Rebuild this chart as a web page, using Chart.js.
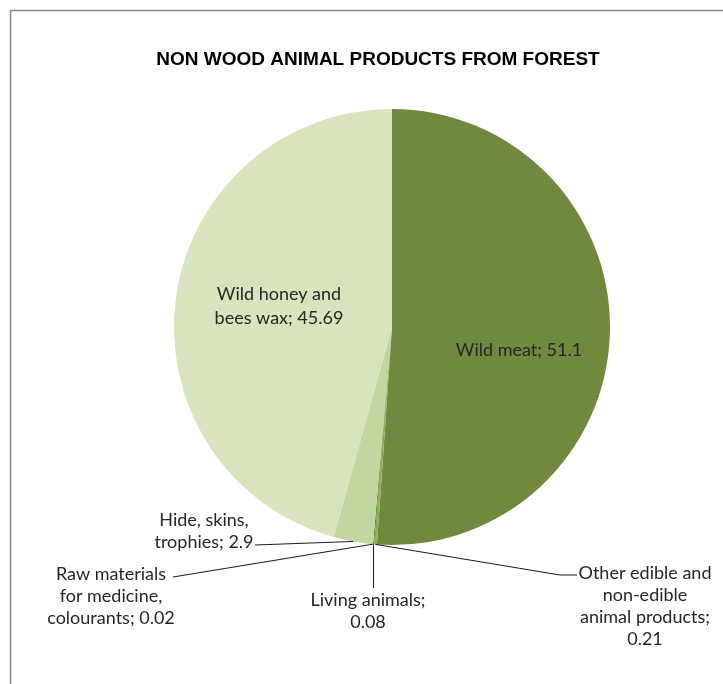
<!DOCTYPE html>
<html>
<head>
<meta charset="utf-8">
<title>Non wood animal products from forest</title>
<script src="https://cdn.jsdelivr.net/npm/chart.js@4/dist/chart.umd.min.js"></script>
<style>
    html, body { margin: 0; padding: 0; background: #fff; }
    #wrap { width: 723px; height: 684px; }
</style>
</head>
<body>
<div id="wrap"><canvas id="pieChart" width="723" height="684"></canvas></div>
<script>
const TITLE = 'NON WOOD ANIMAL PRODUCTS FROM FOREST';

const categories = [
    'Wild meat',
    'Other edible and non-edible animal products',
    'Living animals',
    'Raw materials for medicine, colourants',
    'Hide, skins, trophies',
    'Wild honey and bees wax'
];
const values = [51.1, 0.21, 0.08, 0.02, 2.9, 45.69];
const valueLabels = ['51.1', '0.21', '0.08', '0.02', '2.9', '45.69'];

const sliceColors = ['#71893f', '#8fac57', '#5f7b2f', '#a9c47a', '#c3d6a0', '#d7e4bd'];

// how each label is laid out: text lines, text centre, leader elbow points
const labelLayout = [
    { lines: ['Wild meat; 51.1'], x: 519, y: 350, lh: 22, inside: true },
    { lines: ['Other edible and', 'non-edible', 'animal products;', '0.21'], x: 645, y: 573, lh: 22,
      leader: [[560, 575], [577, 575]] },
    { lines: ['Living animals;', '0.08'], x: 368, y: 600, lh: 22,
      leader: [[null, 588]] },
    { lines: ['Raw materials', 'for medicine,', 'colourants; 0.02'], x: 111, y: 574, lh: 22,
      leader: [[173, 577]] },
    { lines: ['Hide, skins,', 'trophies; 2.9'], x: 204, y: 520, lh: 22,
      leader: [[255, 545]] },
    { lines: ['Wild honey and', 'bees wax; 45.69'], x: 279, y: 294, lh: 24, inside: true }
];

const labelPlugin = {
    id: 'labelPlugin',
    afterDraw(chart) {
        const ctx = chart.ctx;
        ctx.save();

        // outer frame
        ctx.strokeStyle = '#898989';
        ctx.lineWidth = 1.5;
        ctx.strokeRect(10.5, 10.5, 800, 800);

        // title
        ctx.fillStyle = '#000';
        ctx.font = 'bold 19px "Liberation Sans", Arial, sans-serif';
        ctx.textAlign = 'center';
        ctx.textBaseline = 'middle';
        ctx.fillText(TITLE, 378, 60);

        const meta = chart.getDatasetMeta(0);
        ctx.font = '18px Lato, "Open Sans", sans-serif';
        meta.data.forEach((arc, i) => {
            const lay = labelLayout[i];
            const p = arc.getProps(['x', 'y', 'startAngle', 'endAngle', 'outerRadius'], true);
            const mid = (p.startAngle + p.endAngle) / 2;
            const ax = p.x + Math.cos(mid) * p.outerRadius;
            const ay = p.y + Math.sin(mid) * p.outerRadius;

            if (lay.leader) {
                ctx.strokeStyle = '#1a1a1a';
                ctx.lineWidth = 1;
                ctx.beginPath();
                ctx.moveTo(ax, ay);
                lay.leader.forEach(pt => {
                    ctx.lineTo(pt[0] === null ? ax : pt[0], pt[1]);
                });
                ctx.stroke();
            }

            ctx.fillStyle = '#262626';
            lay.lines.forEach((txt, k) => {
                ctx.fillText(txt, lay.x, lay.y + k * lay.lh);
            });
        });
        ctx.restore();
    }
};

new Chart(document.getElementById('pieChart'), {
    type: 'pie',
    data: {
        labels: categories,
        datasets: [{
            data: values,
            backgroundColor: sliceColors,
            borderWidth: 0
        }]
    },
    options: {
        responsive: false,
        animation: false,
        layout: {
            padding: { left: 174, right: 113, top: 109, bottom: 139 }
        },
        plugins: {
            legend: { display: false },
            title: { display: false },
            tooltip: { enabled: false }
        }
    },
    plugins: [labelPlugin]
});
</script>
</body>
</html>
